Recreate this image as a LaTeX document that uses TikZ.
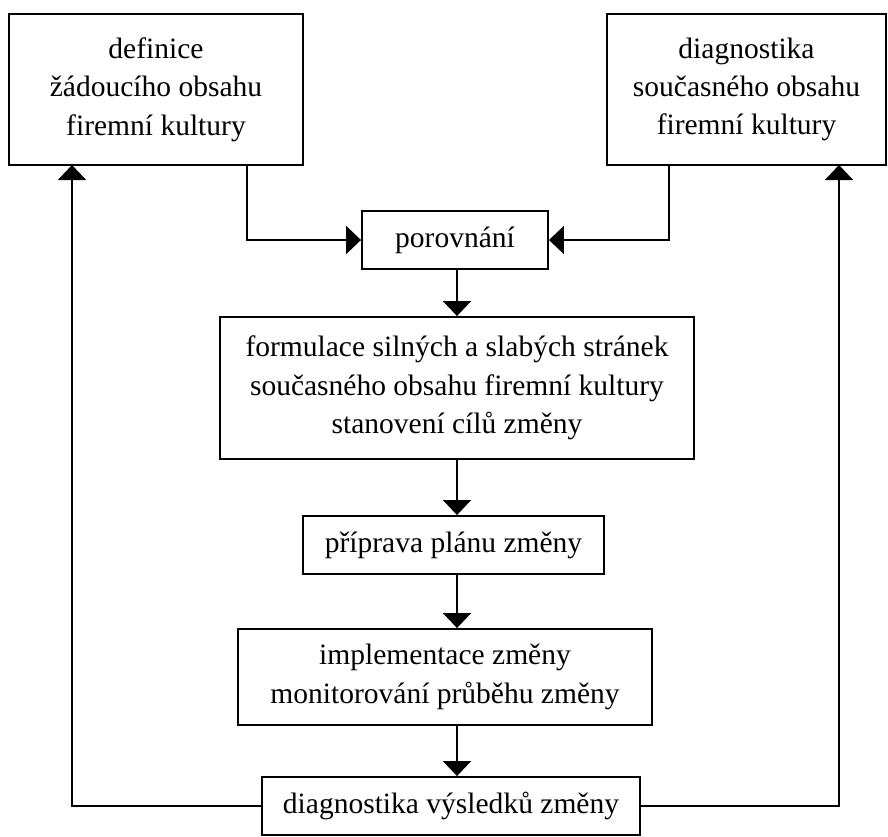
\documentclass[tikz,border=0pt]{standalone}
\usepackage{fontspec}
\setmainfont{Liberation Serif}
\usetikzlibrary{positioning}
\usetikzlibrary{arrows.meta}
\tikzset{krok/.style={draw, line width=1.1pt, align=center, inner sep=0pt,
    font=\fontsize{16.8}{21.8}\selectfont}}
\tikzset{sipka/.style={line width=1.1pt, -{Triangle[width=0.56cm,length=0.3cm]}}}

\begin{document}
\begin{tikzpicture}[x=0.02cm,y=-0.02cm]
\useasboundingbox (0,0) rectangle (888,836);
\node(Def) at (156,89.5) [krok, minimum width=5.88cm, minimum height=3.02cm] {definice\\ žádoucího obsahu\\ firemní kultury};
\node(Diag) at (746.5,89.5) [krok, minimum width=5.58cm, minimum height=3.02cm] {diagnostika\\ současného obsahu\\ firemní kultury};
\node(Por) at (455,240) [krok, minimum width=3.72cm, minimum height=1.16cm] {porovnání};
\node(Form) at (457,388) [krok, minimum width=9.48cm, minimum height=2.84cm] {formulace silných a slabých stránek\\ současného obsahu firemní kultury\\ stanovení cílů změny};
\node(Prip) at (453.5,545) [krok, minimum width=6.02cm, minimum height=1.16cm] {příprava plánu změny};
\node(Impl) at (445,677) [krok, minimum width=8.28cm, minimum height=1.92cm] {implementace změny\\ monitorování průběhu změny};
\node(Vys) at (451,806) [krok, minimum width=7.56cm, minimum height=1.16cm] {diagnostika výsledků změny};

\coordinate(Osa) at (457,0);
\coordinate(DefOut) at (247,165);
\coordinate(DiagOut) at (669,165);
\coordinate(DefIn) at (72,165);
\coordinate(DiagIn) at (839,165);

\draw[sipka] (DefOut) |- (Por.west);
\draw[sipka] (DiagOut) |- (Por.east);
\draw[sipka] (Por.south -| Osa) -- (Form.north -| Osa);
\draw[sipka] (Form.south -| Osa) -- (Prip.north -| Osa);
\draw[sipka] (Prip.south -| Osa) -- (Impl.north -| Osa);
\draw[sipka] (Impl.south -| Osa) -- (Vys.north -| Osa);
% zpetna vazba
\draw[sipka] (Vys.west) -| (DefIn);
\draw[sipka] (Vys.east) -| (DiagIn);
\end{tikzpicture}
\end{document}
